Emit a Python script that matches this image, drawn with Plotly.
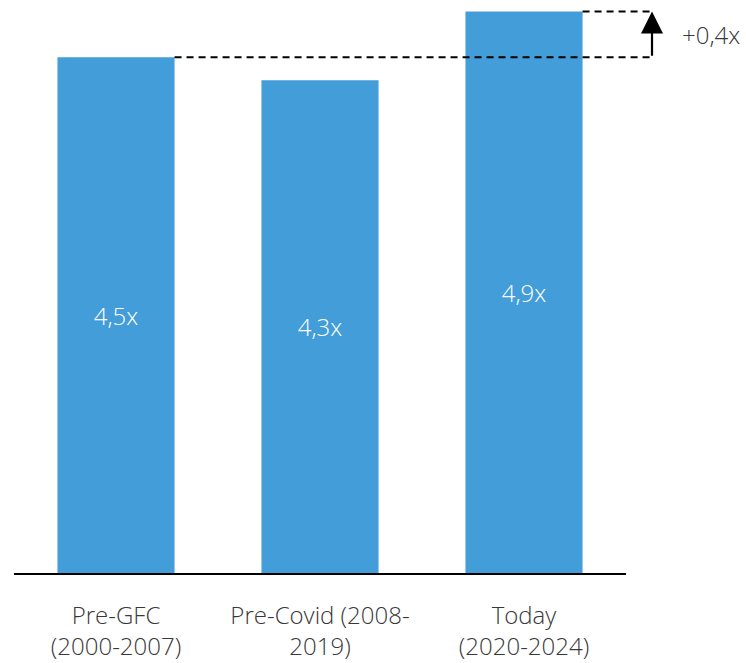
import plotly.graph_objects as go

# Leverage multiples by period
categories = ["Pre-GFC<br>(2000-2007)", "Pre-Covid (2008-<br>2019)", "Today<br>(2020-2024)"]
values = [4.5, 4.3, 4.9]
delta_label = "+0,4x"

BAR_COLOR = "#439DD9"
TEXT_COLOR = "#383838"
FONT = "Open Sans"
BAR_WIDTH = 0.574
Y_MAX = 5.0

labels = [f"{v:.1f}x".replace(".", ",") for v in values]
x_pos = list(range(len(values)))

fig = go.Figure(
    go.Bar(
        x=x_pos,
        y=values,
        width=BAR_WIDTH,
        marker=dict(color=BAR_COLOR, line=dict(width=0)),
        text=labels,
        textposition="inside",
        insidetextanchor="middle",
        textfont=dict(color="white", size=24, family=FONT, weight=300),
        hoverinfo="skip",
    )
)

n = len(values)
# paper x for a given category position
def px(xv):
    return (xv + 0.5) / n

x_end = 1.0425
first, last = values[0], values[-1]

# dashed reference lines from bar tops to the arrow
fig.add_shape(type="line", xref="paper", yref="y",
              x0=px(0 + BAR_WIDTH / 2), x1=x_end, y0=first, y1=first,
              line=dict(color="black", width=2, dash="7px,5px"))
fig.add_shape(type="line", xref="paper", yref="y",
              x0=px(n - 1 + BAR_WIDTH / 2), x1=x_end, y0=last, y1=last,
              line=dict(color="black", width=2, dash="7px,5px"))

# upward arrow showing the change
fig.add_annotation(xref="paper", yref="y", x=x_end, y=last,
                   axref="pixel", ayref="y", ax=0, ay=first,
                   text="", showarrow=True, arrowhead=2, arrowsize=2.0,
                   arrowwidth=2.2, arrowcolor="black", standoff=0)
fig.add_annotation(xref="paper", yref="y", x=x_end + 0.045, y=(first + last) / 2,
                   text=delta_label, showarrow=False, xanchor="left",
                   font=dict(size=24, color=TEXT_COLOR, family=FONT, weight=300))

fig.update_layout(
    width=746, height=663,
    margin=dict(l=14, r=120, t=0, b=90),
    plot_bgcolor="white", paper_bgcolor="white",
    showlegend=False,
    font=dict(family=FONT, color=TEXT_COLOR),
    xaxis=dict(
        range=[-0.5, n - 0.5],
        tickmode="array", tickvals=x_pos, ticktext=categories,
        tickfont=dict(size=24, color=TEXT_COLOR, family=FONT, weight=300),
        showline=True, linecolor="black", linewidth=2,
        showgrid=False, zeroline=False, ticks="", ticklabelstandoff=20,
    ),
    yaxis=dict(
        range=[0, Y_MAX], visible=False, showgrid=False, zeroline=False,
    ),
)

fig.write_html("out.html")
